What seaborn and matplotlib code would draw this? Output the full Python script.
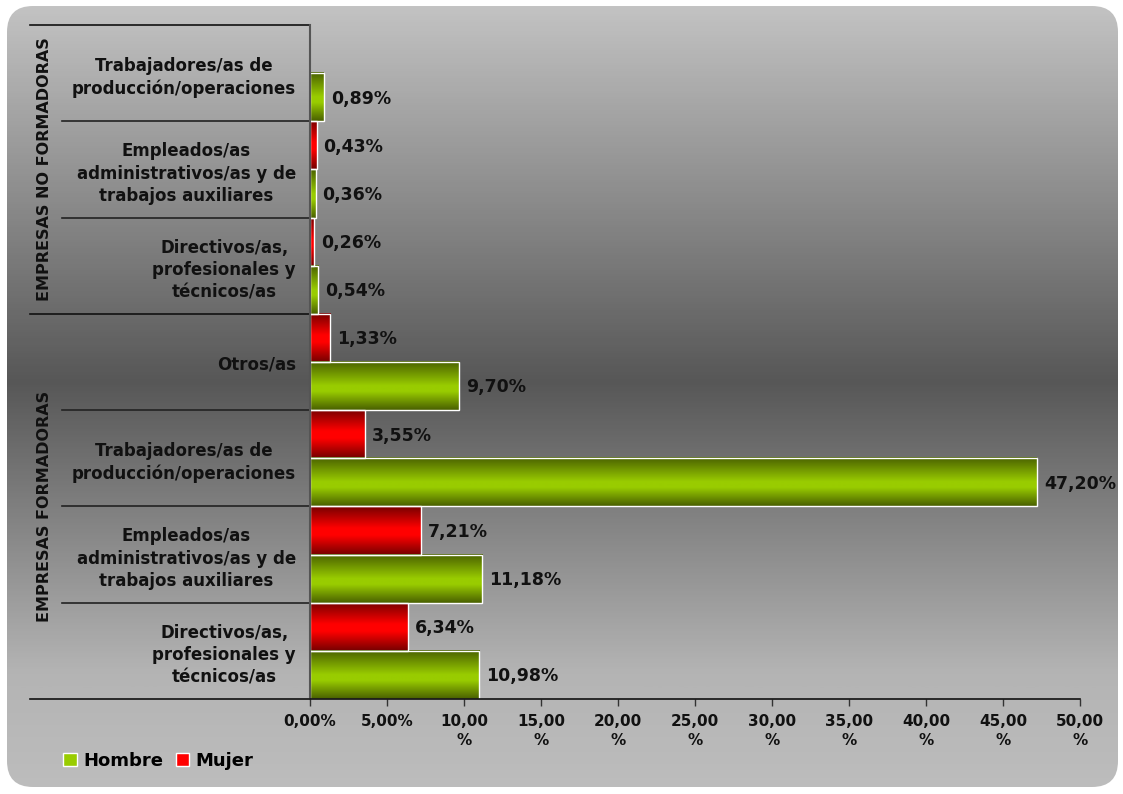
import numpy as np
import pandas as pd
import matplotlib
matplotlib.use("Agg")
import matplotlib.pyplot as plt
import seaborn as sns
from matplotlib.patches import FancyBboxPatch, Patch
from matplotlib.colors import LinearSegmentedColormap
from matplotlib.transforms import blended_transform_factory

# ---------------- data ----------------
groups = ["EMPRESAS NO FORMADORAS", "EMPRESAS FORMADORAS"]
group_rows = [3, 4]
occupations = [
    "Trabajadores/as de\nproducción/operaciones",
    "Empleados/as\nadministrativos/as y de\ntrabajos auxiliares",
    "Directivos/as,\nprofesionales y\ntécnicos/as",
    "Otros/as",
    "Trabajadores/as de\nproducción/operaciones",
    "Empleados/as\nadministrativos/as y de\ntrabajos auxiliares",
    "Directivos/as,\nprofesionales y\ntécnicos/as",
]
hombre = [0.89, 0.36, 0.54, 9.70, 47.20, 11.18, 10.98]
mujer = [np.nan, 0.43, 0.26, 1.33, 3.55, 7.21, 6.34]
series = ["Mujer", "Hombre"]
legend_order = ["Hombre", "Mujer"]
xticks = [0, 5, 10, 15, 20, 25, 30, 35, 40, 45, 50]
xtick_labels = ["0,00%", "5,00%", "10,00\n%", "15,00\n%", "20,00\n%", "25,00\n%",
                "30,00\n%", "35,00\n%", "40,00\n%", "45,00\n%", "50,00\n%"]

keys = [f"r{i}" for i in range(len(occupations))]
rows = []
for k, h, m in zip(keys, hombre, mujer):
    rows.append({"key": k, "sexo": "Hombre", "valor": h})
    rows.append({"key": k, "sexo": "Mujer", "valor": m})
df = pd.DataFrame(rows).dropna()

# ---------------- figure ----------------
W, H = 1123, 794
fig = plt.figure(figsize=(W / 100, H / 100), dpi=100)
fig.patch.set_facecolor("white")

# background rounded panel with vertical gradient
bg_ax = fig.add_axes([0, 0, 1, 1], zorder=0)
bg_ax.set_xlim(0, W)
bg_ax.set_ylim(H, 0)
bg_ax.axis("off")
bg_cmap = LinearSegmentedColormap.from_list(
    "bg", [(0.0, "#c4c4c4"), (0.48, "#575757"), (0.85, "#b4b4b4"), (1.0, "#bdbdbd")])
grad = np.linspace(0, 1, 400).reshape(-1, 1)
im = bg_ax.imshow(grad, extent=[0, W, H, 0], cmap=bg_cmap, aspect="auto")
r = 26
panel = FancyBboxPatch((7 + r, 6 + r), 1111 - 2 * r, 781 - 2 * r,
                       boxstyle=f"round,pad={r}", transform=bg_ax.transData,
                       facecolor="none", edgecolor="none")
bg_ax.add_patch(panel)
im.set_clip_path(panel)

# main axes
x0, x1, ytop, ybot = 310, 1080, 25, 699
ax = fig.add_axes([x0 / W, 1 - ybot / H, (x1 - x0) / W, (ybot - ytop) / H], zorder=1)
ax.patch.set_alpha(0)

palette = {"Mujer": "#ff0000", "Hombre": "#99cc00"}
sns.barplot(data=df, y="key", x="valor", hue="sexo", hue_order=series, order=keys,
            orient="h", width=1.0, palette=palette, edgecolor="white",
            linewidth=1.0, legend=False, ax=ax)

cmaps = {
    "Mujer": LinearSegmentedColormap.from_list(
        "r", [(0, "#760000"), (0.45, "#ff0000"), (0.6, "#ff0000"), (1, "#760000")]),
    "Hombre": LinearSegmentedColormap.from_list(
        "g", [(0, "#4a6100"), (0.5, "#99cc00"), (0.62, "#99cc00"), (1, "#4a6100")]),
}
bar_grad = np.linspace(0, 1, 100).reshape(-1, 1)
for container, s in zip(ax.containers, series):
    for p in container.patches:
        w = p.get_width()
        if not np.isfinite(w):
            continue
        y, h = p.get_y(), p.get_height()
        ax.imshow(bar_grad, extent=[0, w, y + h, y], cmap=cmaps[s], aspect="auto",
                  zorder=p.get_zorder() - 0.01, interpolation="bilinear")
        p.set_facecolor("none")
        lab = f"{w:.2f}".replace(".", ",") + "%"
        ax.annotate(lab, (w, y + h / 2), xytext=(5, -1), textcoords="offset points",
                    va="center", ha="left", fontsize=12.5, fontweight="bold",
                    color="#111111")

ax.set_xlim(0, 50)
ax.set_ylim(len(keys) - 0.5, -0.5)
ax.set_xlabel("")
ax.set_ylabel("")

ax.set_xticks(xticks)
ax.set_xticklabels(xtick_labels, fontsize=11, fontweight="bold", color="#111111",
                   linespacing=1.3)
ax.tick_params(axis="x", direction="out", length=5, width=1, color="#333333", pad=6)
ax.set_yticks(range(len(keys)))
ax.set_yticklabels(occupations, fontsize=12, fontweight="bold", color="#111111",
                   linespacing=1.3)
for t in ax.get_yticklabels():
    t.set_multialignment("center")
ax.tick_params(axis="y", length=0, pad=10)

for side in ["top", "right"]:
    ax.spines[side].set_visible(False)
ax.spines["left"].set_color("#555555")
ax.spines["left"].set_linewidth(1.5)
ax.spines["bottom"].set_color("#111111")
ax.spines["bottom"].set_linewidth(1.2)

# separator lines in the category area
tr = blended_transform_factory(ax.transAxes, ax.transData)
xa_group = (30 - x0) / (x1 - x0)
xa_cat = (62 - x0) / (x1 - x0)
bounds = np.cumsum([0] + group_rows) - 0.5
for b in bounds:
    ax.plot([xa_group, 0], [b, b], transform=tr, color="#111111", lw=1.2, clip_on=False)
start = 0
for n in group_rows:
    for j in range(1, n):
        yb = start + j - 0.5
        ax.plot([xa_cat, 0], [yb, yb], transform=tr, color="#222222", lw=1.2, clip_on=False)
    start += n

# group labels
start = 0
xa_lab = (45 - x0) / (x1 - x0)
for g, n in zip(groups, group_rows):
    yc = start + (n - 1) / 2
    ax.text(xa_lab, yc, g, transform=tr, rotation=90, ha="center", va="center",
            fontsize=11.5, fontweight="bold", color="#111111")
    start += n

# legend
handles = [Patch(facecolor=palette[s], edgecolor="white", linewidth=1) for s in legend_order]
fig.legend(handles, legend_order, loc="center left", bbox_to_anchor=(47 / W, 1 - 761 / H),
           ncol=2, frameon=False, handlelength=0.75, handleheight=0.75, handletextpad=0.35,
           columnspacing=0.7, prop={"size": 13, "weight": "bold"})

fig.savefig("out.png", dpi=100)
